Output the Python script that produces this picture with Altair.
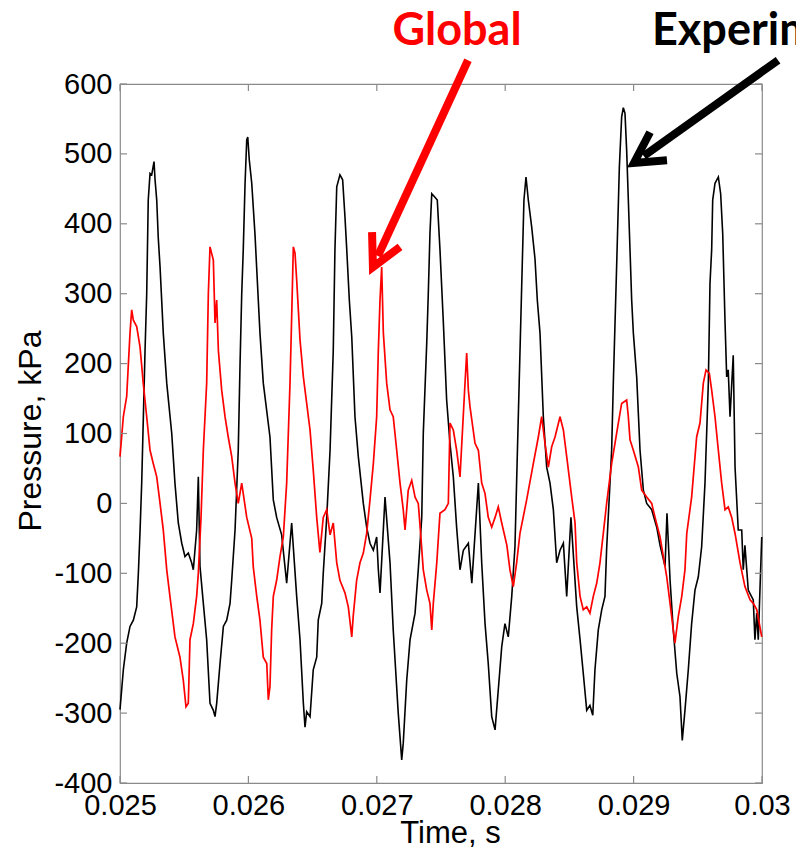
import altair as alt
import pandas as pd

# ---- Experiment (black) trace: time [s], pressure [kPa]
exp_t = [0.025000, 0.025026, 0.025052, 0.025078, 0.025104, 0.025130, 0.025143, 0.025156, 0.025169, 0.025195,
         0.025208, 0.025220, 0.025234, 0.025247, 0.025265, 0.025273, 0.025286, 0.025298, 0.025312, 0.025337,
         0.025364, 0.025403, 0.025428, 0.025454, 0.025481, 0.025506, 0.025532, 0.025558, 0.025571, 0.025597,
         0.025610, 0.025623, 0.025649, 0.025675, 0.025701, 0.025727, 0.025740, 0.025753, 0.025779, 0.025805,
         0.025831, 0.025857, 0.025870, 0.025896, 0.025921, 0.025935, 0.025948, 0.025960, 0.025974, 0.025987,
         0.025995, 0.026007, 0.026026, 0.026051, 0.026077, 0.026090, 0.026116, 0.026168, 0.026194, 0.026220,
         0.026259, 0.026285, 0.026298, 0.026337, 0.026376, 0.026402, 0.026428, 0.026441, 0.026454, 0.026480,
         0.026505, 0.026532, 0.026544, 0.026571, 0.026583, 0.026610, 0.026636, 0.026661, 0.026674, 0.026688,
         0.026713, 0.026734, 0.026752, 0.026766, 0.026786, 0.026805, 0.026830, 0.026856, 0.026895, 0.026921,
         0.026947, 0.026973, 0.026999, 0.027012, 0.027025, 0.027064, 0.027103, 0.027128, 0.027167, 0.027194,
         0.027206, 0.027233, 0.027259, 0.027298, 0.027323, 0.027350, 0.027362, 0.027389, 0.027401, 0.027414,
         0.027428, 0.027453, 0.027471, 0.027492, 0.027518, 0.027544, 0.027570, 0.027596, 0.027622, 0.027648,
         0.027674, 0.027713, 0.027740, 0.027791, 0.027817, 0.027843, 0.027868, 0.027895, 0.027921, 0.027946,
         0.027973, 0.027998, 0.028024, 0.028051, 0.028076, 0.028102, 0.028129, 0.028146, 0.028162, 0.028180,
         0.028206, 0.028232, 0.028250, 0.028271, 0.028297, 0.028323, 0.028349, 0.028375, 0.028401, 0.028427,
         0.028453, 0.028479, 0.028512, 0.028557, 0.028583, 0.028608, 0.028635, 0.028660, 0.028682, 0.028699,
         0.028725, 0.028752, 0.028777, 0.028790, 0.028829, 0.028842, 0.028868, 0.028889, 0.028907, 0.028920,
         0.028933, 0.028946, 0.028959, 0.028972, 0.028985, 0.028998, 0.029024, 0.029050, 0.029076, 0.029102,
         0.029141, 0.029180, 0.029206, 0.029245, 0.029260, 0.029284, 0.029309, 0.029336, 0.029361, 0.029379,
         0.029400, 0.029426, 0.029452, 0.029478, 0.029504, 0.029530, 0.029556, 0.029582, 0.029595, 0.029608,
         0.029616, 0.029634, 0.029660, 0.029678, 0.029694, 0.029712, 0.029725, 0.029737, 0.029751, 0.029776,
         0.029790, 0.029815, 0.029842, 0.029854, 0.029867, 0.029893, 0.029932, 0.029945, 0.029959, 0.029971,
         0.029998]
exp_p = [-295, -238, -200, -176, -167, -148, -100, -40, 29, 219,
         300, 434, 472, 470, 489, 463, 434, 380, 338, 244,
         172, 100, 29, -28, -57, -76, -71, -85, -95, -38,
         38, -90, -143, -195, -286, -296, -305, -286, -229, -176,
         -167, -143, -110, -38, 76, 200, 300, 363, 458, 520,
         524, 491, 458, 386, 291, 244, 172, 95, 5, -20,
         -45, -91, -114, -28, -133, -195, -286, -320, -298, -305,
         -238, -220, -167, -143, -100, -20, 76, 219, 363, 453,
         470, 463, 410, 363, 291, 238, 124, 67, 0, -34,
         -57, -67, -48, -95, -128, 9, -85, -181, -300, -367,
         -343, -253, -195, -157, -95, -20, 100, 230, 300, 386,
         443, 438, 434, 363, 260, 148, 86, 38, -35, -95,
         -67, -57, -114, 29, -85, -172, -229, -305, -324, -267,
         -205, -172, -191, -133, -62, 124, 315, 434, 467, 434,
         396, 350, 291, 244, 124, 52, 29, -9, -85, -67,
         -57, -133, -20, -148, -195, -243, -296, -289, -303, -238,
         -181, -152, -133, -65, 76, 172, 340, 481, 553, 566,
         558, 505, 434, 363, 291, 244, 181, 76, 19, 0,
         -9, -34, -60, -90, -14, -110, -181, -243, -276, -339,
         -296, -238, -172, -124, -105, -62, 29, 172, 315, 363,
         434, 458, 467, 443, 386, 260, 181, 191, 124, 212,
         52, -38, -38, -95, -60, -124, -138, -195, -157, -195,
         -48]

# ---- Global (red) trace
glb_t = [0.025000, 0.025026, 0.025052, 0.025078, 0.025091, 0.025104, 0.025130, 0.025156, 0.025181, 0.025208,
         0.025234, 0.025259, 0.025286, 0.025312, 0.025337, 0.025364, 0.025389, 0.025428, 0.025467, 0.025493,
         0.025514, 0.025532, 0.025545, 0.025571, 0.025597, 0.025610, 0.025631, 0.025649, 0.025675, 0.025688,
         0.025701, 0.025727, 0.025740, 0.025753, 0.025766, 0.025792, 0.025818, 0.025843, 0.025870, 0.025896,
         0.025921, 0.025948, 0.025987, 0.026026, 0.026038, 0.026065, 0.026090, 0.026116, 0.026143, 0.026155,
         0.026168, 0.026181, 0.026194, 0.026220, 0.026246, 0.026272, 0.026298, 0.026324, 0.026337, 0.026350,
         0.026363, 0.026376, 0.026402, 0.026428, 0.026454, 0.026480, 0.026505, 0.026532, 0.026557, 0.026583,
         0.026610, 0.026636, 0.026661, 0.026688, 0.026713, 0.026752, 0.026778, 0.026805, 0.026816, 0.026843,
         0.026869, 0.026895, 0.026921, 0.026947, 0.026973, 0.026999, 0.027012, 0.027025, 0.027038, 0.027051,
         0.027077, 0.027103, 0.027128, 0.027155, 0.027181, 0.027206, 0.027220, 0.027245, 0.027272, 0.027298,
         0.027323, 0.027336, 0.027362, 0.027389, 0.027414, 0.027428, 0.027440, 0.027467, 0.027492, 0.027531,
         0.027557, 0.027570, 0.027596, 0.027622, 0.027648, 0.027687, 0.027700, 0.027713, 0.027726, 0.027765,
         0.027791, 0.027817, 0.027843, 0.027868, 0.027895, 0.027921, 0.027946, 0.027973, 0.028013, 0.028037,
         0.028063, 0.028089, 0.028115, 0.028167, 0.028219, 0.028258, 0.028284, 0.028310, 0.028336, 0.028362,
         0.028388, 0.028427, 0.028453, 0.028479, 0.028518, 0.028544, 0.028557, 0.028583, 0.028608, 0.028635,
         0.028660, 0.028686, 0.028713, 0.028738, 0.028764, 0.028790, 0.028829, 0.028855, 0.028881, 0.028907,
         0.028946, 0.028959, 0.028972, 0.028998, 0.029037, 0.029063, 0.029102, 0.029141, 0.029167, 0.029206,
         0.029258, 0.029284, 0.029309, 0.029322, 0.029348, 0.029375, 0.029400, 0.029414, 0.029452, 0.029491,
         0.029517, 0.029543, 0.029564, 0.029590, 0.029608, 0.029634, 0.029660, 0.029686, 0.029712, 0.029737,
         0.029764, 0.029790, 0.029829, 0.029867, 0.029907, 0.029932, 0.029959, 0.029998]
glb_p = [67, 124, 153, 244, 277, 262, 253, 224, 172, 124,
         76, 57, 38, 0, -38, -95, -133, -191, -220, -253,
         -291, -286, -195, -172, -133, -100, -20, 76, 172, 300,
         367, 348, 258, 291, 219, 162, 124, 95, 67, 29,
         0, 29, -20, -50, -91, -133, -167, -220, -229, -281,
         -262, -181, -133, -110, -76, -48, 29, 172, 267, 367,
         358, 320, 234, 181, 143, 105, 48, -20, -70, -20,
         -9, -45, -28, -85, -110, -128, -148, -191, -162, -110,
         -85, -71, -43, 5, 57, 124, 219, 291, 338, 244,
         172, 134, 124, 76, 29, -9, -38, 19, 33, 9,
         0, -30, -95, -124, -143, -181, -143, -85, -14, -9,
         0, 115, 105, 76, 38, 172, 215, 162, 138, 86,
         76, 29, 14, -20, -34, -20, -5, -28, -60, -95,
         -119, -85, -43, 5, 57, 95, 124, 86, 52, 81,
         95, 124, 105, 67, 9, -28, -85, -133, -152, -148,
         -157, -133, -114, -85, -43, 0, 57, 86, 115, 143,
         148, 124, 91, 76, 52, 19, 9, 0, -20, -48,
         -105, -143, -181, -200, -162, -133, -95, -43, 9, 95,
         115, 172, 191, 186, 162, 124, 76, 29, -9, -5,
         -20, -43, -85, -119, -138, -143, -152, -191]

x_ticks = [0.025, 0.026, 0.027, 0.028, 0.029, 0.030]
y_ticks = [-400, -300, -200, -100, 0, 100, 200, 300, 400, 500, 600]

# ---- annotations (data units)
label_text = ["Global", "Experiment"]
label_t = [0.027625, 0.029143]
label_p = [656, 656]

arrow_group = ["r_shaft", "r_shaft", "r_head", "r_head", "r_head",
               "k_shaft", "k_shaft", "k_head", "k_head", "k_head"]
arrow_t = [0.027710, 0.027009, 0.026963, 0.026970, 0.027181,
           0.030125, 0.029079, 0.029128, 0.029003, 0.029260]
arrow_p = [634, 354, 388, 338, 367,
           634, 497, 531, 487, 491]
arrow_color = ["#ff0000"] * 5 + ["#000000"] * 5

RED = "#ff0000"
GRAY = "#8a8a8a"
W, H = 642, 699

exp_df = pd.DataFrame({"t": exp_t, "p": exp_p})
glb_df = pd.DataFrame({"t": glb_t, "p": glb_p})
xt_df = pd.DataFrame({"t": x_ticks})
yt_df = pd.DataFrame({"p": y_ticks})
arrow_df = pd.DataFrame({"g": arrow_group, "o": list(range(len(arrow_t))),
                         "t": arrow_t, "p": arrow_p, "c": arrow_color})
lab_df = pd.DataFrame({"text": label_text, "t": label_t, "p": label_p})

xscale = alt.Scale(domain=[0.025, 0.030], nice=False, zero=False)
yscale = alt.Scale(domain=[-400, 600], nice=False, zero=False)

x_axis = alt.Axis(values=x_ticks, format=".3~f", grid=False, ticks=False, domain=False,
                  labelFont="Liberation Sans", labelFontSize=29, labelColor="black", labelPadding=8,
                  labelOverlap=False, labelFlush=False, labelBound=False,
                  titleFont="Liberation Sans", titleFontSize=31, titleFontWeight="normal",
                  titleColor="black", titleX=330, titleY=59, titleAlign="center", titleBaseline="alphabetic")
y_axis = alt.Axis(values=y_ticks, grid=False, ticks=False, domain=False,
                  labelExpr="replace(datum.label, '\u2212', '-')",
                  labelFont="Liberation Sans", labelFontSize=29, labelColor="black", labelPadding=8,
                  labelOverlap=False, labelFlush=False, labelBound=False,
                  titleFont="Liberation Sans", titleFontSize=32, titleFontWeight="normal",
                  titleColor="black", titleX=-90, titleY=H / 2 - 3, titleAngle=270, titleAlign="center",
                  titleBaseline="middle")

X = alt.X("t:Q", scale=xscale, title="Time, s", axis=x_axis)
Y = alt.Y("p:Q", scale=yscale, title="Pressure, kPa", axis=y_axis)

exp_line = alt.Chart(exp_df).mark_line(color="black", strokeWidth=1.6).encode(x=X, y=Y, order="t:Q")
glb_line = alt.Chart(glb_df).mark_line(color=RED, strokeWidth=1.7).encode(x=X, y=Y, order="t:Q")

xt_bottom = alt.Chart(xt_df).mark_rule(color=GRAY, strokeWidth=1.2).encode(
    x=X, y=alt.value(H), y2=alt.value(H - 7))
xt_top = alt.Chart(xt_df).mark_rule(color=GRAY, strokeWidth=1.2).encode(
    x=X, y=alt.value(0), y2=alt.value(7))
yt_left = alt.Chart(yt_df).mark_rule(color=GRAY, strokeWidth=1.2).encode(
    y=Y, x=alt.value(0), x2=alt.value(7))
yt_right = alt.Chart(yt_df).mark_rule(color=GRAY, strokeWidth=1.2).encode(
    y=Y, x=alt.value(W), x2=alt.value(W - 7))

arrows = alt.Chart(arrow_df).mark_line(strokeWidth=8, strokeJoin="miter", strokeCap="butt",
                                       clip=False).encode(
    x=X, y=Y, detail="g:N", order="o:Q", color=alt.Color("c:N", scale=None))

txt_global = alt.Chart(lab_df.iloc[[0]]).mark_text(
    font="Lato", fontWeight="bold", fontSize=45, color=RED, align="center", baseline="alphabetic",
    clip=False).encode(x=X, y=Y, text="text:N")
txt_exp = alt.Chart(lab_df.iloc[[1]]).mark_text(
    font="Lato", fontWeight="bold", fontSize=45, color="black", align="left", baseline="alphabetic",
    clip=False).encode(x=X, y=Y, text="text:N")

chart = alt.layer(
    exp_line, glb_line, xt_bottom, xt_top, yt_left, yt_right, arrows, txt_global, txt_exp
).properties(
    width=W, height=H,
    padding={"left": 120, "top": 84, "right": 34, "bottom": 67},
    autosize=alt.AutoSizeParams(type="none"),
    background="white",
).configure_view(stroke=GRAY, strokeWidth=1.2)

chart.save("out.html", embed_options={"renderer": "svg", "actions": False})
